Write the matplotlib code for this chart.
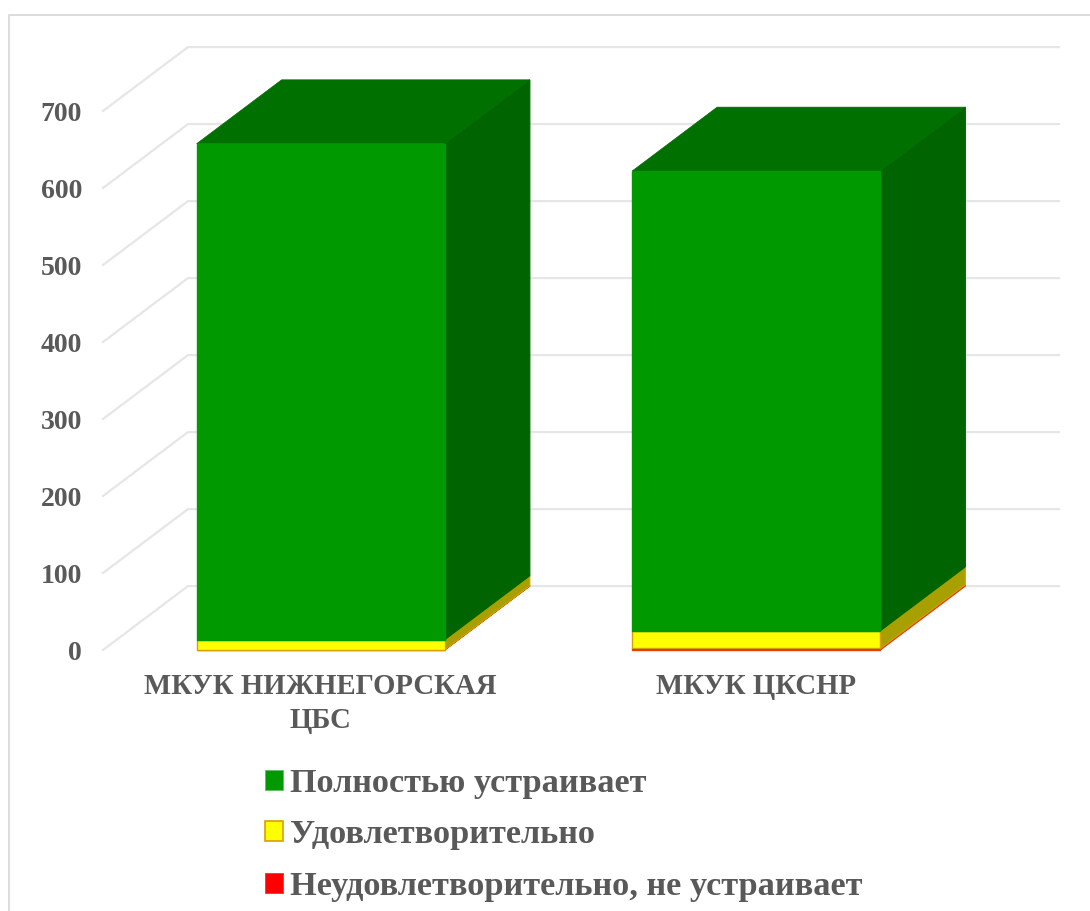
import matplotlib
matplotlib.use("Agg")
import matplotlib.pyplot as plt
from matplotlib.lines import Line2D
from matplotlib.patches import Patch, Polygon
from matplotlib.transforms import ScaledTranslation

plt.rcParams['font.family'] = ['Liberation Serif', 'DejaVu Serif']

categories = ["МКУК НИЖНЕГОРСКАЯ\nЦБС", "МКУК ЦКСНР"]
series_names = ["Полностью устраивает", "Удовлетворительно", "Неудовлетворительно, не устраивает"]
fully = [644, 597]
satisfactory = [13, 23]
unsatisfactory = [0.5, 2]
y_ticks = [0, 100, 200, 300, 400, 500, 600, 700]

W, H = 1090, 911
fig = plt.figure(figsize=(W / 100, H / 100), dpi=100, facecolor='white')
ax = fig.add_axes([103 / W, 1 - 650 / H, 871 / W, 539 / H])
ax.patch.set_alpha(0)
ax.set_xlim(-0.5, 1.5)
ax.set_ylim(0, 700)
for s in ax.spines.values():
    s.set_visible(False)

BAR_W = 0.57
DEPTH_X = 85 / 435.5
DEPTH_Y = 83.0
GRID = '#E6E6E6'
TEXT = '#595959'


def sheared(x, y):
    return (x + DEPTH_X, y + DEPTH_Y)


# gridlines on floor-side and back wall
x0, x1 = ax.get_xlim()
for v in y_ticks:
    ax.plot([x0, sheared(x0, v)[0], sheared(x1, v)[0]],
            [v, sheared(x0, v)[1], sheared(x1, v)[1]],
            color=GRID, lw=1.6, clip_on=False, zorder=1, solid_joinstyle='miter')

styles = [
    (unsatisfactory, '#FF0000', '#C00000', '#E04010'),
    (satisfactory, '#FFFF00', '#A8A000', '#D8A000'),
    (fully, '#009900', '#006400', '#009900'),
]
for i in range(len(categories)):
    bottom = 0
    for values, front, side, edge in styles:
        v = values[i]
        left, right = i - BAR_W / 2, i + BAR_W / 2
        ax.add_patch(Polygon([(right, bottom), (right, bottom + v),
                              sheared(right, bottom + v), sheared(right, bottom)],
                             closed=True, facecolor=side, edgecolor=edge if edge != front else side,
                             lw=0.8, clip_on=False, zorder=3))
        ax.bar(i, v, width=BAR_W, bottom=bottom, color=front, edgecolor=edge,
               linewidth=1.0, clip_on=False, zorder=4)
        bottom += v
    ax.add_patch(Polygon([(left, bottom), (right, bottom),
                          sheared(right, bottom), sheared(left, bottom)],
                         closed=True, facecolor='#007000', edgecolor='#007000',
                         lw=0.5, clip_on=False, zorder=3))

ax.set_yticks(y_ticks)
ax.set_xticks(range(len(categories)))
ax.set_xticklabels(categories, linespacing=1.36)
ax.tick_params(axis='y', length=0, pad=15, labelsize=20, labelcolor=TEXT)
ax.tick_params(axis='x', length=0, pad=16.5, labelsize=20.7, labelcolor=TEXT)
for t in ax.get_xticklabels():
    t.set_fontweight('bold')
label_shift = ScaledTranslation(0, -2.5 / 72, fig.dpi_scale_trans)
for t in ax.get_yticklabels():
    t.set_fontweight('bold')
    t.set_verticalalignment('center')
    t.set_transform(t.get_transform() + label_shift)

handles = [Patch(facecolor='#009900', edgecolor='#60C060', lw=0.6),
           Patch(facecolor='#FFFF00', edgecolor='#D8A000', lw=1.2),
           Patch(facecolor='#FF0000', edgecolor='#D04040', lw=0.6)]
legend = fig.legend(handles, series_names, loc='upper left', bbox_to_anchor=(256 / W, 1 - 758.5 / H),
                    frameon=False, fontsize=24.7, labelcolor=TEXT,
                    handlelength=0.52, handleheight=0.52, handletextpad=0.2, labelspacing=0.6,
                    borderpad=0.27, borderaxespad=0)
for t in legend.get_texts():
    t.set_fontweight('bold')

# outer chart frame
fig.add_artist(Line2D([9 / W, 9 / W, 1], [0, 1 - 15 / H, 1 - 15 / H],
                      transform=fig.transFigure, color='#DCDCDC', lw=1.4))

fig.savefig('out.png', dpi=100)
